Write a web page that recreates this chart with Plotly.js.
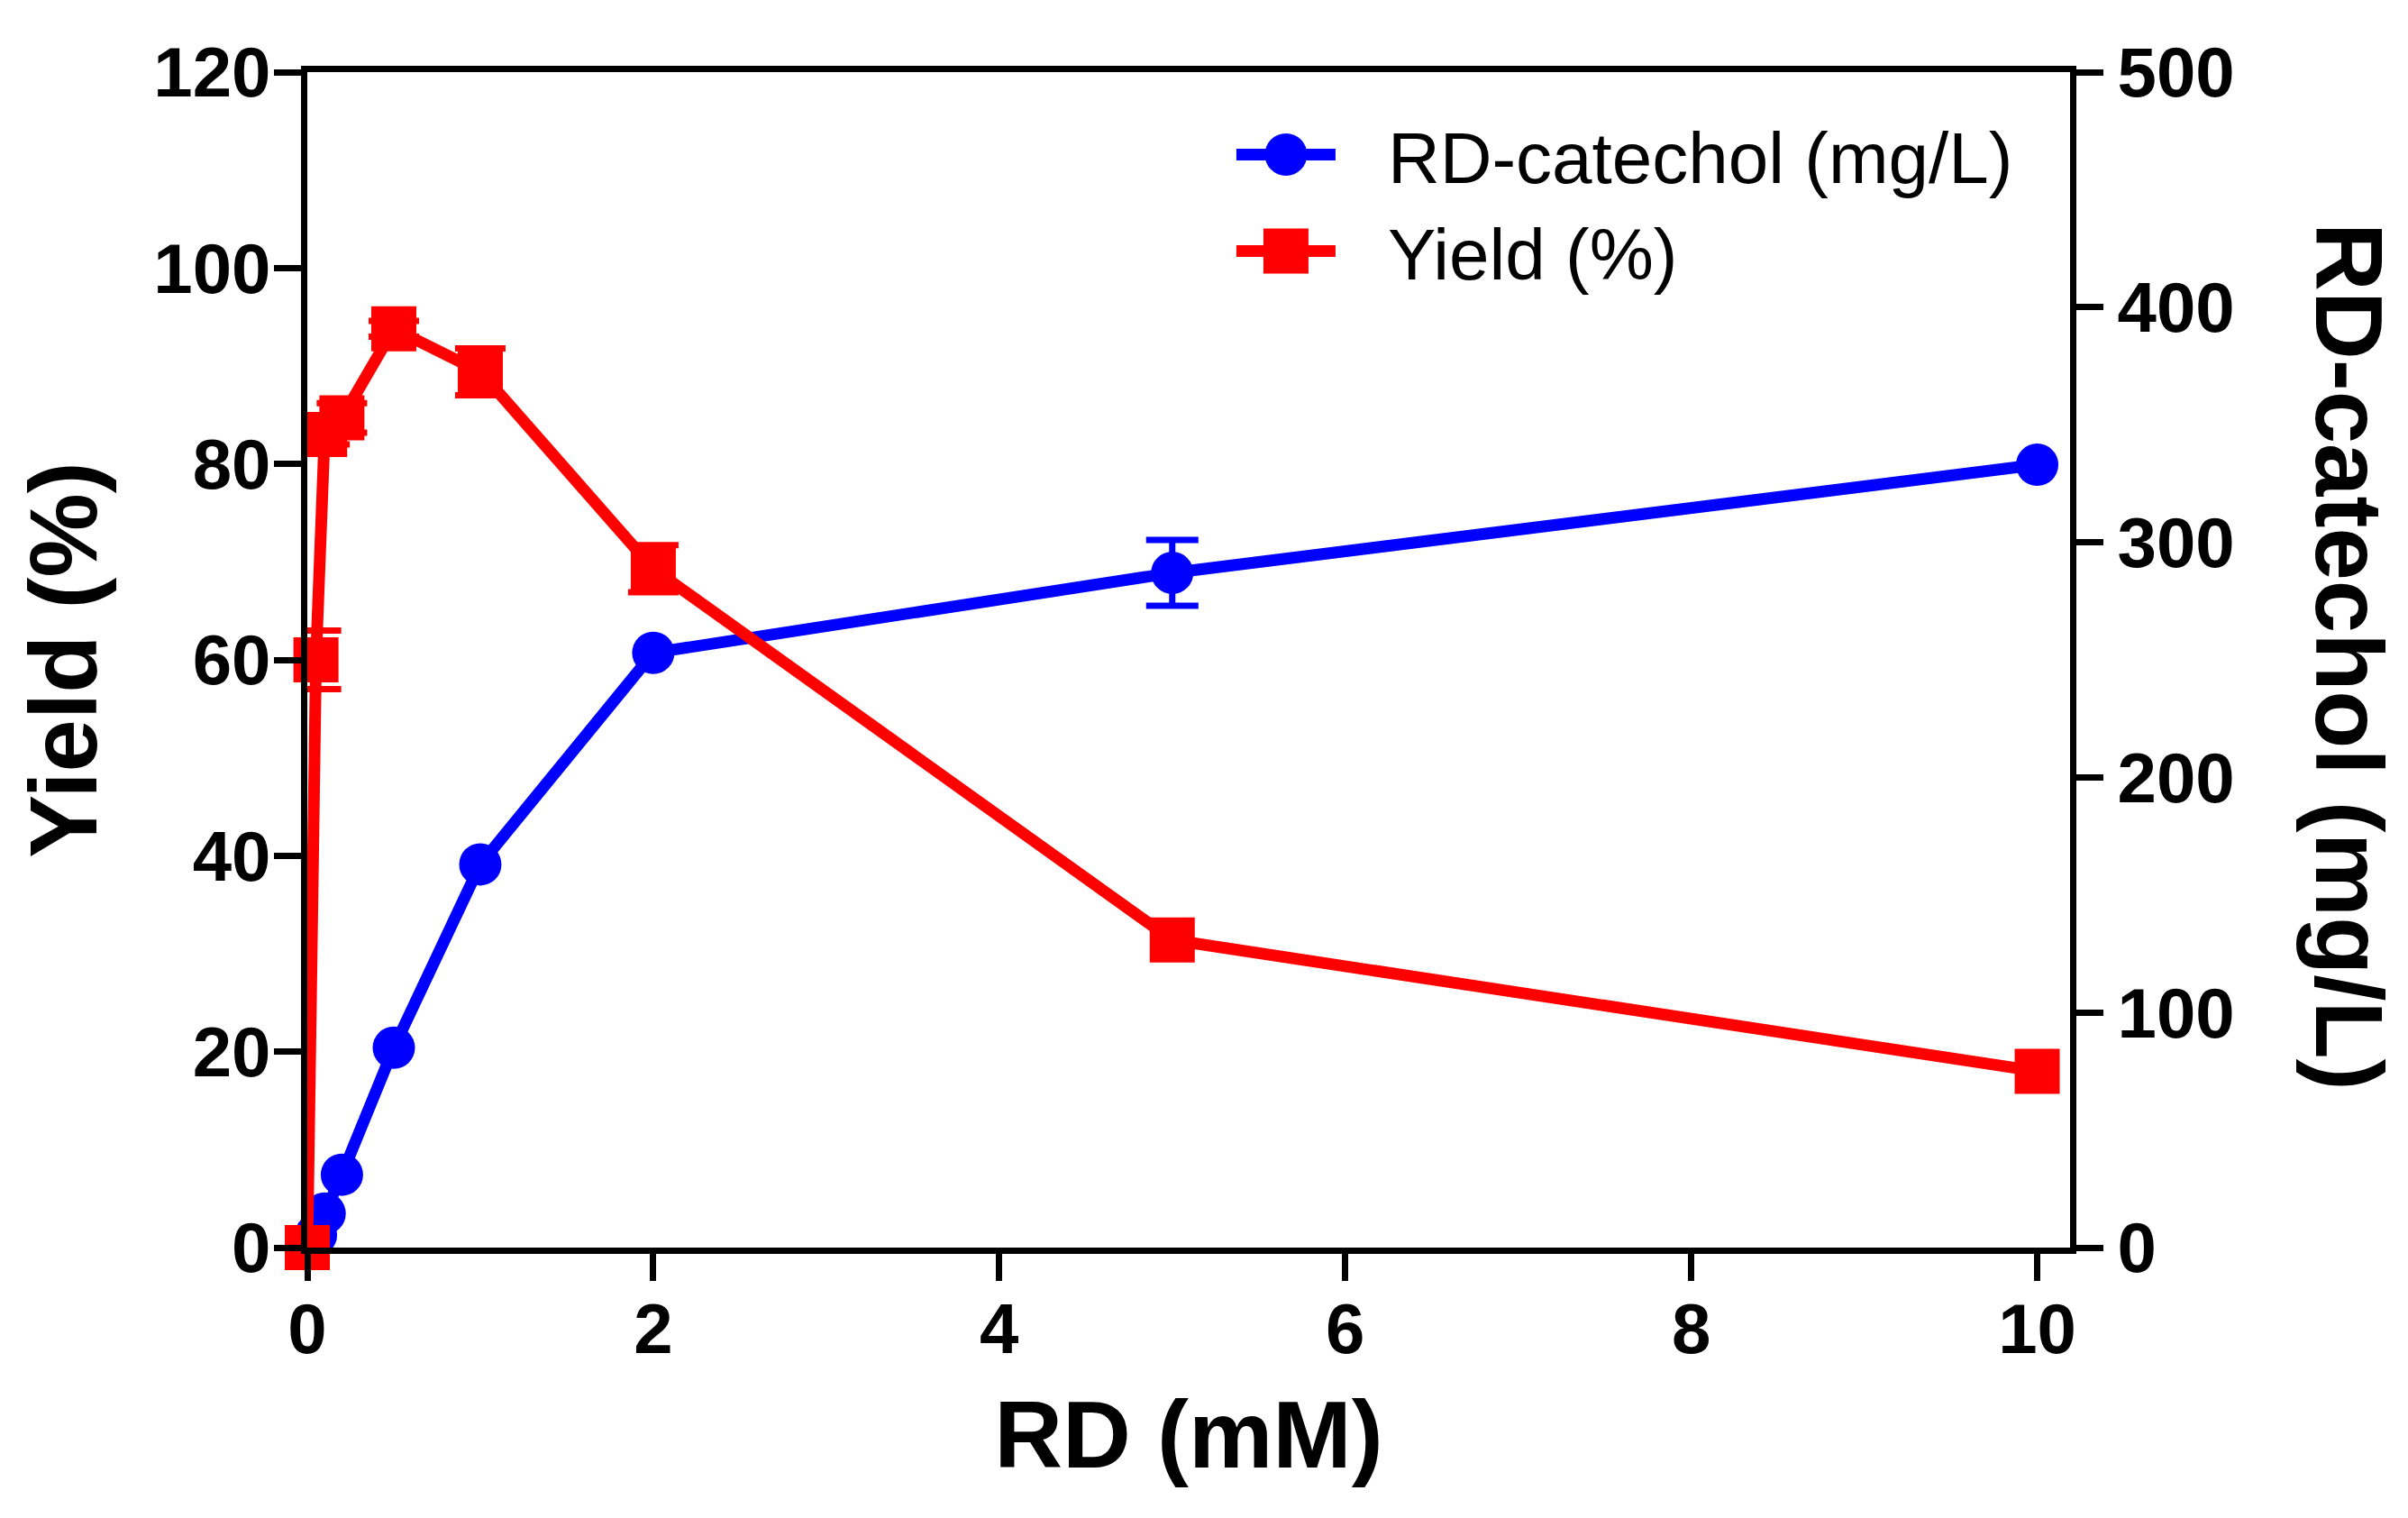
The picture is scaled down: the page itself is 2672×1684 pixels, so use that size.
<!DOCTYPE html>
<html><head><meta charset="utf-8">
<script src="https://cdn.plot.ly/plotly-3.0.1.min.js"></script>
<style>html,body{margin:0;padding:0;background:#fff}#chart{width:2672px;height:1684px}</style>
</head><body><div id="chart"></div>
<script>
const rdConc = [0, 0.05, 0.1, 0.2, 0.5, 1, 2, 5, 10];
const catechol = [0, 5.4, 14.5, 31, 85, 163, 253, 287, 333];
const catecholErr = [NaN, NaN, NaN, NaN, NaN, NaN, NaN, 14, NaN];
const yieldPct = [0, 60, 83, 84.7, 93.8, 89.4, 69.3, 31.4, 18];
const yieldErr = [NaN, 3, 1, 1.5, 0.8, 2.4, 2.4, NaN, NaN];
const xTicks = [0, 2, 4, 6, 8, 10];
const leftTicks = [0, 20, 40, 60, 80, 100, 120];
const rightTicks = [0, 100, 200, 300, 400, 500];

const FONT = 'Liberation Sans, Arial, sans-serif';
const tickFont = {family: FONT, size: 78, color: '#000', weight: 'bold'};
const titleFont = {family: FONT, size: 105, color: '#000', weight: 'bold'};

const axisCommon = {
  ticks: 'outside', ticklen: 30, tickwidth: 7, tickcolor: '#000',
  showline: true, linewidth: 7, linecolor: '#000',
  showgrid: false, zeroline: false, tickfont: tickFont
};

const traces = [
  {
    name: 'RD-catechol (mg/L)', x: rdConc, y: catechol, yaxis: 'y', xaxis: 'x',
    mode: 'lines+markers', cliponaxis: false,
    line: {color: '#0000FF', width: 13},
    marker: {color: '#0000FF', size: 47, symbol: 'circle'},
    error_y: {type: 'data', array: catecholErr, visible: true, color: '#0000FF', thickness: 7, width: 29}
  },
  {
    name: 'Yield (%)', x: rdConc, y: yieldPct, yaxis: 'y2', xaxis: 'x',
    mode: 'lines+markers', cliponaxis: false,
    line: {color: '#FF0000', width: 13},
    marker: {color: '#FF0000', size: 50, symbol: 'square'},
    error_y: {type: 'data', array: yieldErr, visible: true, color: '#FF0000', thickness: 7, width: 28}
  }
];

const layout = {
  width: 2672, height: 1684,
  margin: {l: 341, r: 375, t: 80, b: 300},
  paper_bgcolor: '#fff', plot_bgcolor: '#fff',
  showlegend: true,
  legend: {x: 0.5245, y: 0.9747, xanchor: 'left', yanchor: 'top',
    font: {family: FONT, size: 80, color: '#000'}, bgcolor: 'rgba(0,0,0,0)', itemwidth: 110},
  xaxis: Object.assign({}, axisCommon, {
    range: [0, 10.19], tickvals: xTicks, ticktext: xTicks.map(String), mirror: true,
    ticklabelstandoff: -14,
    title: {text: 'RD (mM)', font: titleFont, standoff: 40}
  }),
  yaxis: Object.assign({}, axisCommon, {
    side: 'right', range: [0, 500], tickvals: rightTicks, ticktext: rightTicks.map(String)
  }),
  yaxis2: Object.assign({}, axisCommon, {
    side: 'left', overlaying: 'y', range: [0, 120], tickvals: leftTicks, ticktext: leftTicks.map(String),
    ticklabelstandoff: -12,
    title: {text: 'Yield (%)', font: titleFont, standoff: 30}
  }),
  annotations: [{
    text: 'RD-catechol (mg/L)', xref: 'paper', yref: 'paper', x: 1.1585, y: 0.503,
    textangle: 90, showarrow: false, xanchor: 'center', yanchor: 'middle', font: titleFont
  }]
};

Plotly.newPlot('chart', traces, layout, {staticPlot: true}).then(gd => {
  const scales = [47 / 16, 50 / 16];
  gd.querySelectorAll('.legend [clip-path]').forEach(el => el.removeAttribute('clip-path'));
  gd.querySelectorAll('.legend .traces').forEach((g, i) => {
    g.querySelectorAll('.legendpoints path.scatterpts').forEach(p => {
      const t = p.getAttribute('transform') || '';
      p.setAttribute('transform', t + ' scale(' + scales[i % 2] + ')');
    });
    g.querySelectorAll('.legendlines path').forEach(p => {
      p.style.strokeWidth = '13px';
    });
    const txt = g.querySelector('text.legendtext');
    if (txt) txt.setAttribute('x', (parseFloat(txt.getAttribute('x')) || 0) + 53);
  });
});
</script>
</body></html>
